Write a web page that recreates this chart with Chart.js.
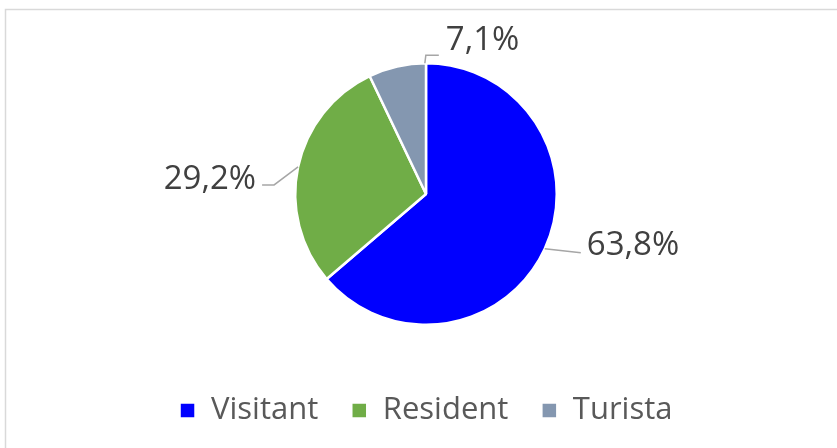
<!DOCTYPE html>
<html>
<head>
<meta charset="utf-8">
<script src="https://cdn.jsdelivr.net/npm/chart.js@4/dist/chart.umd.min.js"></script>
<style>
  html, body { margin: 0; padding: 0; background: #fff; }
  #wrap { width: 837px; height: 448px; position: relative; }
</style>
</head>
<body>
<div id="wrap"><canvas id="myChart"></canvas></div>
<script>
const categories = ['Visitant', 'Resident', 'Turista']
const shares = [63.8, 29.2, 7.1]
const shareLabels = ['63,8%', '29,2%', '7,1%']
const colors = ['#0000FF', '#70AD47', '#8497B0']

// leader line layout per slice: where on the arc it starts (0..1 of the slice),
// bends relative to that point, and where the text sits
const leaders = [
    { at: 0.5, path: [[36, 4]], text: [42, -3], align: 'left' },
    { at: 0.5, path: [[-24, 18], [-36, 18]], text: [-42, 13], align: 'right' },
    { at: 0.98, path: [[1, -8], [14, -8]], text: [21, -23], align: 'left' }
]

const frame = {
    id: 'frame',
    beforeDraw(chart) {
        const c = chart.ctx
        c.save()
        c.strokeStyle = '#D9D9D9'
        c.lineWidth = 1.5
        c.beginPath()
        c.moveTo(5.5, chart.height)
        c.lineTo(5.5, 9.5)
        c.lineTo(chart.width, 9.5)
        c.stroke()
        c.restore()
    }
}

const sliceLabels = {
    id: 'sliceLabels',
    afterDatasetsDraw(chart) {
        const c = chart.ctx
        const arcs = chart.getDatasetMeta(0).data
        c.save()
        arcs.forEach((arc, i) => {
            const lay = leaders[i]
            const a = arc.startAngle + (arc.endAngle - arc.startAngle) * lay.at
            const ex = arc.x + arc.outerRadius * Math.cos(a)
            const ey = arc.y + arc.outerRadius * Math.sin(a)
            c.strokeStyle = '#A6A6A6'
            c.lineWidth = 1.5
            c.beginPath()
            c.moveTo(ex, ey)
            lay.path.forEach(p => c.lineTo(ex + p[0], ey + p[1]))
            c.stroke()
            c.fillStyle = '#404040'
            c.font = '33px "Open Sans"'
            c.textAlign = lay.align
            c.textBaseline = 'middle'
            c.fillText(shareLabels[i], ex + lay.text[0], ey + lay.text[1])
        })
        c.restore()
    }
}

let ctx = document.getElementById('myChart')

new Chart(ctx, {
    type: 'pie',
    data: {
        labels: categories,
        datasets: [{
            data: shares,
            backgroundColor: colors,
            borderColor: '#FFFFFF',
            borderWidth: 2.5
        }]
    },
    options: {
        responsive: true,
        maintainAspectRatio: false,
        animation: false,
        layout: {
            padding: { top: 62, left: 15, right: 0, bottom: 12 }
        },
        plugins: {
            legend: {
                position: 'bottom',
                title: {
                    display: true,
                    text: ' ',
                    font: { size: 10 },
                    padding: { top: 0, bottom: 24 }
                },
                labels: {
                    boxWidth: 16,
                    boxHeight: 16,
                    padding: 33,
                    color: '#595959',
                    font: { family: 'Open Sans', size: 31 }
                }
            },
            tooltip: { enabled: false }
        }
    },
    plugins: [frame, sliceLabels]
});
</script>
</body>
</html>
